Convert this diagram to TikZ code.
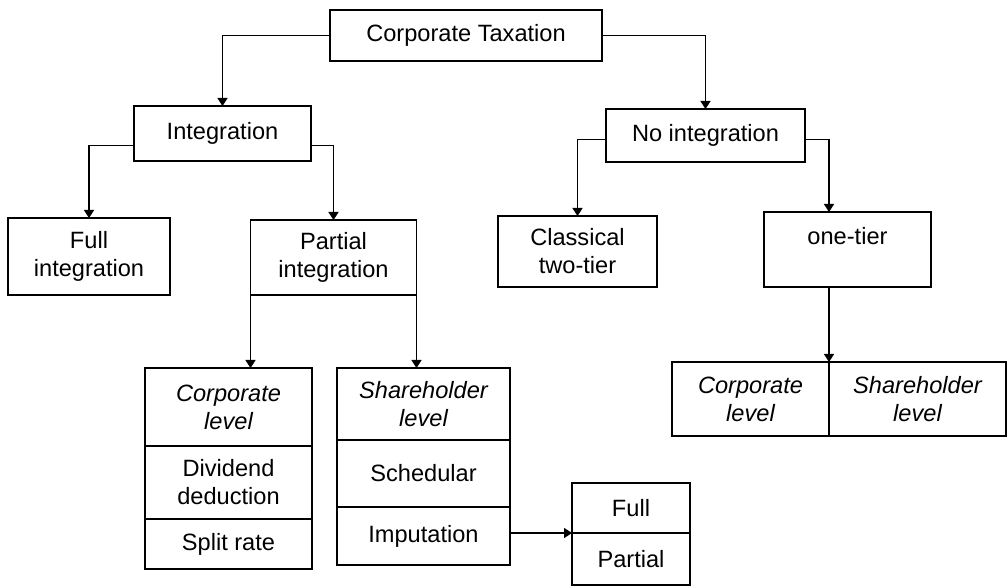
\documentclass[tikz,border=0pt]{standalone}
\usepackage{fontspec}
\setmainfont{Liberation Sans}
\usetikzlibrary{arrows.meta,positioning}
\begin{document}
\fontsize{11.8}{14}\selectfont
\begin{tikzpicture}[x=0.5pt,y=-0.5pt,
	box/.style = {draw, line width=0.8pt, inner sep=1pt, outer sep=0pt, align=center},
	arr/.style = {-{Triangle[width=5pt,length=4pt]}, line width=0.8pt}]
		\useasboundingbox (0,0) rectangle (1007,587);
		\node[box, minimum width=136pt, minimum height=25.5pt] (tax) at (466,35.5) {Corporate Taxation};
		\node[box, minimum width=88.5pt, minimum height=27.5pt] (integ) at (222.5,133.5) {Integration};
		\node[box, minimum width=99.5pt, minimum height=26.5pt] (noint) at (705.5,135.5) {No integration};
		\node[box, minimum width=81pt, minimum height=38.5pt] (full) at (89,256.5) {Full\\integration};
		\node[box, minimum width=83pt, minimum height=37.5pt] (partial) at (333.5,257.5) {Partial\\integration};
		\node[box, minimum width=79.5pt, minimum height=35.5pt] (classical) at (577.5,251.5) {Classical\\two-tier};
		\node[box, minimum width=83.5pt, minimum height=37.5pt] (onetier) at (847.5,249.5) {one-tier\\~};
		\node[box, font=\itshape, minimum width=78.5pt, minimum height=37pt] (tcorp) at (750.5,399) {Corporate\\level};
		\node[box, font=\itshape, minimum width=88.5pt, minimum height=37pt] (tshare) [right=0pt of tcorp] {Shareholder\\level};
		\node[box, font=\itshape, minimum width=83.5pt, minimum height=39pt] (pcorp) at (228.5,407) {Corporate\\level};
		\node[box, minimum width=83.5pt, minimum height=36.5pt] (divded) [below=0pt of pcorp] {Dividend\\deduction};
		\node[box, minimum width=83.5pt, minimum height=25pt] (split) [below=0pt of divded] {Split rate};
		\node[box, font=\itshape, minimum width=86.5pt, minimum height=36pt] (share) at (423.5,404) {Shareholder\\level};
		\node[box, minimum width=86.5pt, minimum height=33.5pt] (sched) [below=0pt of share] {Schedular};
		\node[box, minimum width=86.5pt, minimum height=29pt] (imput) [below=0pt of sched] {Imputation};
		\node[box, minimum width=59pt, minimum height=25pt] (fpfull) at (631,508) {Full};
		\node[box, minimum width=59pt, minimum height=26pt] (fppart) [below=0pt of fpfull] {Partial};
		\draw[arr] (tax.west) -| (integ.north);
		\draw[arr] (tax.east) -| (noint.north);
		\draw[arr] ([yshift=-6pt]integ.west) -| (full.north);
		\draw[arr] ([yshift=-6pt]integ.east) -| (partial.north);
		\draw[arr] ([yshift=-2pt]noint.west) -| (classical.north);
		\draw[arr] ([yshift=-2pt]noint.east) -| (onetier.north -| tcorp.north east);
		\draw[arr] (onetier.south -| tcorp.north east) -- (tcorp.north east);
		\draw[arr] (partial.south west) -- (partial.south west |- pcorp.north);
		\draw[arr] (partial.south east) -- (partial.south east |- share.north);
		\draw[arr] (imput.east |- fpfull.south) -- (fpfull.south west);
	\end{tikzpicture}
\end{document}
